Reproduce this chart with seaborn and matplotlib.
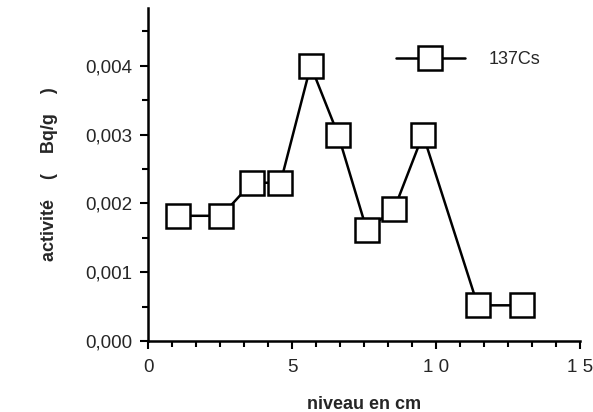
import matplotlib
matplotlib.use("Agg")
import matplotlib.pyplot as plt
import seaborn as sns
import pandas as pd
from matplotlib.ticker import MultipleLocator, AutoMinorLocator, FuncFormatter

# values
niveau = [1.05, 2.55, 3.6, 4.6, 5.65, 6.6, 7.6, 8.55, 9.55, 11.45, 13.0]
activite = [0.00182, 0.00182, 0.0023, 0.0023, 0.0040, 0.0030,
            0.00161, 0.00192, 0.0030, 0.00052, 0.00052]
serie = "137Cs"

df = pd.DataFrame({"niveau": niveau, "activite": activite})

sns.set_style("ticks")
plt.rcParams["font.family"] = ["Liberation Sans", "DejaVu Sans"]

fig = plt.figure(figsize=(5.93, 4.12), dpi=100)
ax = fig.add_axes([0.2496, 0.172, 0.978 - 0.2496, 0.981 - 0.172])

sns.lineplot(data=df, x="niveau", y="activite", ax=ax, color="black",
             linewidth=1.8, marker="s", markersize=17.5, markerfacecolor="white",
             markeredgecolor="black", markeredgewidth=1.8, label=serie)

ax.set_xlim(0, 15)
ax.set_ylim(0, 0.00484)
ax.xaxis.set_major_locator(MultipleLocator(5))
ax.xaxis.set_minor_locator(AutoMinorLocator(6))
ax.yaxis.set_major_locator(MultipleLocator(0.001))
ax.yaxis.set_minor_locator(AutoMinorLocator(2))
ax.yaxis.set_major_formatter(FuncFormatter(lambda v, p: f"{v:.3f}".replace(".", ",")))
ax.xaxis.set_major_formatter(FuncFormatter(lambda v, p: " ".join(f"{v:.0f}")))

ax.tick_params(axis="both", which="major", length=6, width=1.5, labelsize=13.5, color="black")
ax.tick_params(axis="y", which="major", pad=5)
ax.tick_params(axis="x", which="major", pad=7)
ax.tick_params(axis="both", which="minor", length=4, width=1.5, color="black")
for s in ["top", "right"]:
    ax.spines[s].set_visible(False)
for s in ["left", "bottom"]:
    ax.spines[s].set_linewidth(1.8)
    ax.spines[s].set_color("black")

ax.set_xlabel("niveau en cm", fontsize=13, fontweight="bold", labelpad=14)
ax.set_ylabel("activité    (    Bq/g    )", fontsize=13, fontweight="bold", labelpad=20)

leg = ax.legend(loc="center right", bbox_to_anchor=(0.945, 0.845), frameon=False,
                fontsize=13, handlelength=3.8, handletextpad=1.3)

fig.savefig("out.png", dpi=100)
